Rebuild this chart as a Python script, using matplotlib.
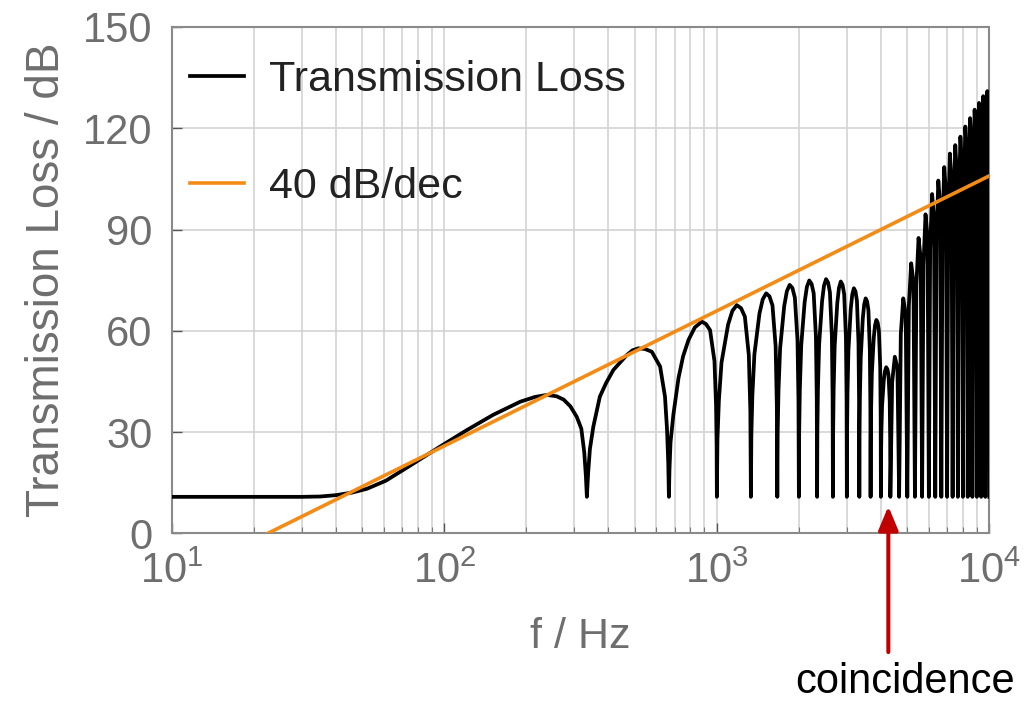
import matplotlib
matplotlib.use("Agg")
import matplotlib.pyplot as plt
from matplotlib.ticker import LogLocator, FixedLocator, NullFormatter

plt.rcParams['font.family'] = ['Liberation Sans', 'DejaVu Sans']
plt.rcParams['mathtext.fontset'] = 'custom'
plt.rcParams['mathtext.rm'] = 'Liberation Sans'
plt.rcParams['mathtext.it'] = 'Liberation Sans'
plt.rcParams['mathtext.bf'] = 'Liberation Sans'

# ---------------- data ----------------
floor_db = 10.8

# low-frequency part (below first dip)
low_freq = [10, 20, 30, 35, 40, 46, 52, 61, 75, 96, 121, 151, 190, 215, 238,
            258, 274, 290, 306, 318, 326, 330.5]
low_db = [10.8, 10.8, 10.8, 10.9, 11.3, 12.1, 13.2, 15.6, 20.1, 25.6, 30.6,
          35.1, 39.0, 40.4, 41.0, 40.6, 39.6, 37.6, 34.5, 31.0, 24.0, 17.0]

# dip frequencies (curve falls to the floor at each)
dip_freq = [333.3, 666.7, 1000, 1333.3, 1666.7, 2000, 2333.3, 2666.7, 3000,
            3333.3, 3666.7, 4000, 4333.3, 4666.7, 5000, 5333.3, 5666.7, 6000,
            6333.3, 6666.7, 7000, 7333.3, 7666.7, 8000, 8333.3, 8666.7, 9000,
            9333.3, 9666.7, 10000]

# lobes 1-12 (between dips), points read along each arch
lobe_freq = [
    337, 342, 352, 372, 392, 417, 467, 490, 515, 545, 577, 619, 645, 656, 663,
    670, 676, 692, 723, 752, 787, 830, 880, 912, 944, 980, 993, 998,
    1005, 1017, 1040, 1100, 1140, 1183, 1226.7, 1267, 1310, 1327,
    1338.3, 1350, 1373.3, 1433.3, 1473.3, 1516.7, 1560, 1600, 1643.3, 1660,
    1671.7, 1683.3, 1706.7, 1766.7, 1806.7, 1850, 1893.3, 1933.3, 1976.7, 1993.3,
    2005, 2016.7, 2040, 2100, 2140, 2183.3, 2226.7, 2266.7, 2310, 2326.7,
    2338.3, 2350, 2373.3, 2433.3, 2473.3, 2516.7, 2560, 2600, 2643.3, 2660,
    2671.7, 2683.3, 2706.7, 2766.7, 2806.7, 2850, 2893.3, 2933.3, 2976.7, 2993.3,
    3005, 3016.7, 3040, 3100, 3140, 3183.3, 3226.7, 3266.7, 3310, 3326.7,
    3338.3, 3350, 3373.3, 3433.3, 3473.3, 3516.7, 3560, 3600, 3643.3, 3660,
    3671.7, 3683.3, 3706.7, 3766.7, 3806.7, 3850, 3893.3, 3933.3, 3976.7, 3993.3,
    4005, 4016.7, 4040, 4100, 4140, 4183.3, 4226.7, 4266.7, 4310, 4326.7,
]
lobe_db = [
    18, 25, 31.6, 40.5, 44.5, 48.4, 52.8, 54.2, 54.8, 54.6, 53.8, 49.4, 40.5, 31, 21,
    19, 27, 35, 46, 52.5, 57.3, 61.0, 62.7, 62.0, 60.2, 51, 38, 26,
    27.8, 39.2, 50.6, 61.9, 65.9, 67.6, 66.7, 64.2, 52.8, 36.4,
    28.9, 40.9, 53.0, 65.1, 69.3, 71.1, 70.2, 67.5, 55.4, 37.9,
    29.6, 42.2, 54.8, 67.3, 71.7, 73.6, 72.7, 69.8, 57.3, 39.1,
    30.0, 42.8, 55.7, 68.5, 73.0, 74.9, 73.9, 71.1, 58.2, 39.6,
    30.1, 43.0, 55.9, 68.8, 73.4, 75.3, 74.3, 71.4, 58.5, 39.8,
    29.9, 42.7, 55.5, 68.2, 72.7, 74.6, 73.6, 70.8, 58.0, 39.5,
    29.3, 41.7, 54.1, 66.4, 70.7, 72.6, 71.7, 68.9, 56.5, 38.6,
    28.4, 40.2, 52.0, 63.7, 67.8, 69.6, 68.7, 66.1, 54.3, 37.3,
    26.5, 37.0, 47.5, 58.0, 61.6, 63.2, 62.4, 60.1, 49.6, 34.4,
    22.3, 30.0, 37.7, 45.4, 48.0, 49.2, 48.6, 46.9, 39.2, 28.1,
]

# high-frequency lobes above coincidence: rising shoulder, peak, falling shoulder
hf_freq = [
    4400, 4500, 4600,
    4733.3, 4833, 4933.3,
    5066.7, 5167, 5266.7,
    5400, 5500, 5600,
    5733.3, 5833, 5933.3,
    6066.7, 6167, 6266.7,
    6400, 6500, 6600,
    6733.3, 6833, 6933.3,
    7066.7, 7167, 7266.7,
    7400, 7500, 7600,
    7733.3, 7833, 7933.3,
    8066.7, 8167, 8266.7,
    8400, 8500, 8600,
    8733.3, 8833, 8933.3,
    9066.7, 9167, 9266.7,
    9400, 9500, 9600,
    9733.3, 9833, 9933.3,
]
hf_db = [
    44.8, 52.3, 49.0,
    59.0, 69.6, 64.9,
    67.5, 80.0, 74.5,
    73.7, 87.5, 81.4,
    79.4, 94.5, 87.8,
    84.4, 100.5, 93.3,
    87.6, 104.5, 97.0,
    90.9, 108.5, 100.7,
    94.2, 112.5, 104.4,
    96.2, 115.0, 106.7,
    98.3, 117.5, 109.0,
    100.8, 120.5, 111.7,
    102.8, 123.0, 114.0,
    104.9, 125.5, 116.3,
    106.5, 127.5, 118.2,
    108.1, 129.5, 120.0,
    109.4, 131.0, 121.4,
]

# 40 dB/decade reference line
slope_freq = [22.5, 10000]
slope_db = [0.0, 105.9]

coincidence_freq = 4260

x_ticks = [10, 100, 1000, 10000]
y_ticks = [0, 30, 60, 90, 120, 150]

# ---------------- assemble curve ----------------
pts = list(zip(low_freq, low_db))
pts += [(f, floor_db) for f in dip_freq]
pts += list(zip(lobe_freq, lobe_db))
pts += list(zip(hf_freq, hf_db))
pts.sort(key=lambda p: p[0])
curve_f = [p[0] for p in pts]
curve_db = [p[1] for p in pts]

# ---------------- figure ----------------
W, H = 1035, 701
fig = plt.figure(figsize=(W / 100, H / 100), dpi=100)
ax = fig.add_axes([172 / W, (H - 533.3) / H, 817.3 / W, 506.3 / H])

grid_c = '#cfcfcf'
label_c = '#6e6e6e'
frame_c = '#8a8a8a'

ax.set_xscale('log')
ax.set_xlim(10, 10000)
ax.set_ylim(0, 150)

ax.plot(curve_f, curve_db, color='black', lw=2.7, solid_joinstyle='round',
        label='Transmission Loss', zorder=3)
ax.plot(slope_freq, slope_db, color='#f28c16', lw=2.6,
        label='40 dB/dec', zorder=4)

ax.xaxis.set_major_locator(FixedLocator(x_ticks))
ax.xaxis.set_minor_locator(LogLocator(base=10, subs=range(2, 10)))
ax.xaxis.set_minor_formatter(NullFormatter())
ax.set_yticks(y_ticks)

ax.grid(True, which='both', axis='x', color=grid_c, lw=1.1, zorder=0)
ax.grid(True, which='major', axis='y', color=grid_c, lw=1.1, zorder=0)

for s in ax.spines.values():
    s.set_color(frame_c)
    s.set_linewidth(1.5)

ax.tick_params(axis='both', which='major', direction='in', length=7, width=1,
               color='#555555', labelcolor=label_c)
ax.tick_params(axis='x', which='major', labelsize=30, pad=13)
ax.tick_params(axis='y', which='major', labelsize=30, pad=14)
ax.tick_params(axis='x', which='minor', direction='in', length=4, width=0.8,
               color='#777777')

ax.set_xlabel('f / Hz', fontsize=31, color=label_c, labelpad=18)
ax.set_ylabel('Transmission Loss / dB', fontsize=33, color=label_c, labelpad=10)

leg = ax.legend(loc='upper left', bbox_to_anchor=(0.006, 0.9605), frameon=False,
                fontsize=31, handlelength=1.25, handletextpad=0.6,
                labelspacing=1.55, borderaxespad=0.0, borderpad=0.3)
for t in leg.get_texts():
    t.set_color('#222222')

ax.annotate('', xy=(coincidence_freq, 8), xytext=(coincidence_freq, -35.2),
            xycoords='data', textcoords='data', annotation_clip=False,
            arrowprops=dict(arrowstyle='-|>,head_length=0.72,head_width=0.3',
                            mutation_scale=20, color='#c00000', lw=2.9,
                            shrinkA=0, shrinkB=0))
fig.text(905 / W, 8 / H, 'coincidence', fontsize=30, color='black',
         ha='center', va='baseline')

fig.savefig('out.png', dpi=100)
